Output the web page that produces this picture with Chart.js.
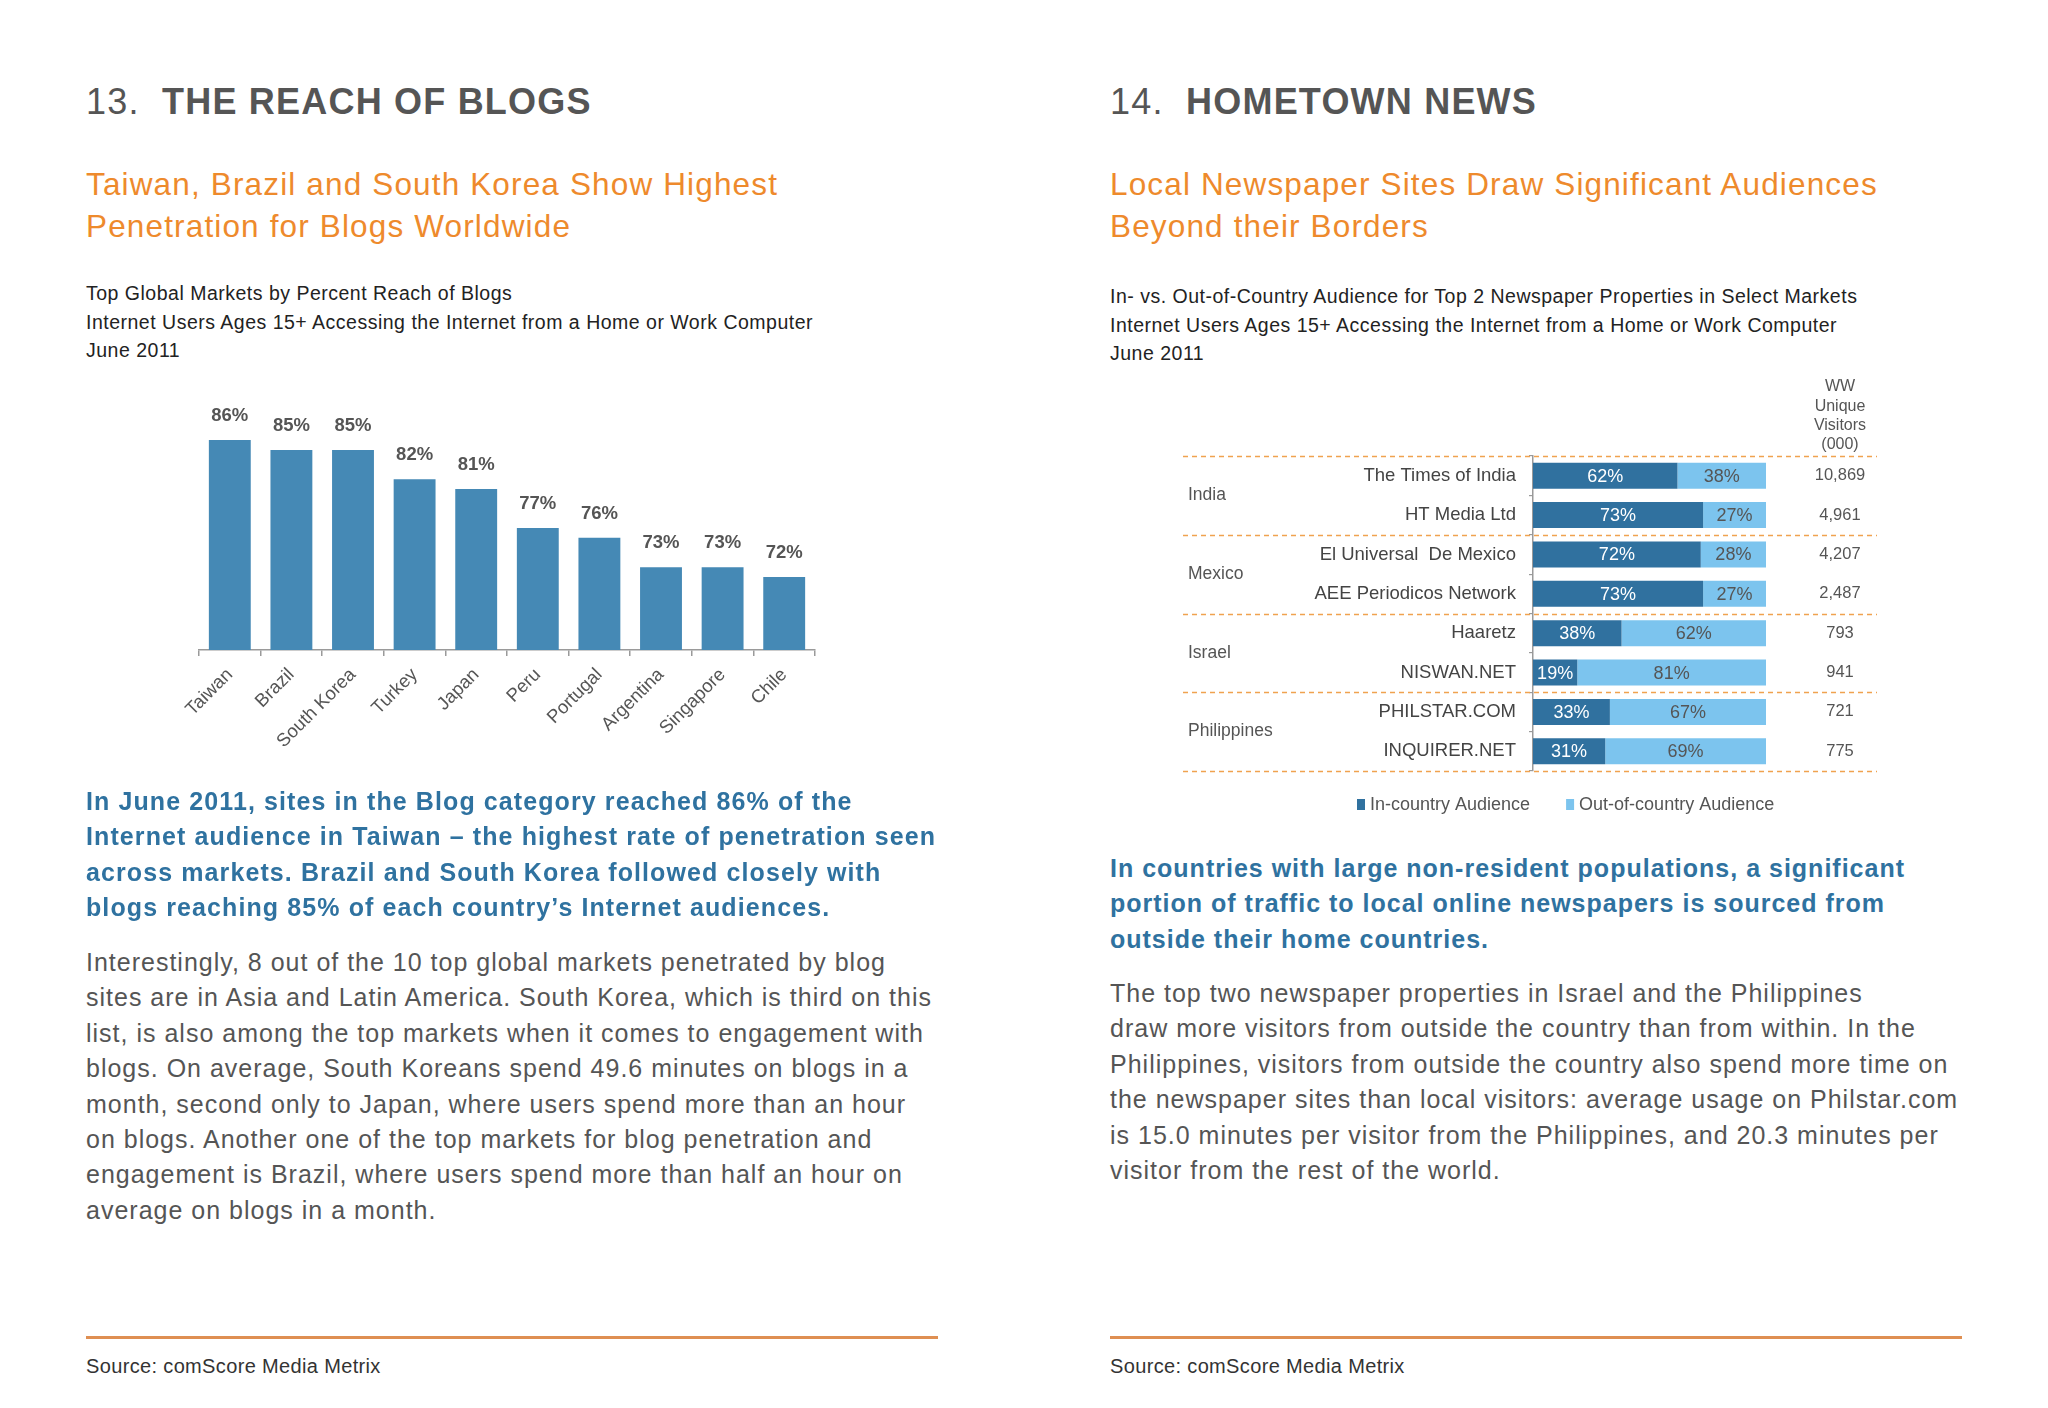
<!DOCTYPE html>
<html><head><meta charset="utf-8">
<script src="https://cdn.jsdelivr.net/npm/chart.js@4.4.1/dist/chart.umd.min.js"></script>
<style>
html,body{margin:0;padding:0;background:#fff;}
body{width:2048px;height:1408px;position:relative;overflow:hidden;font-family:"Liberation Sans",Arial,Helvetica,sans-serif;}
.abs{position:absolute;white-space:nowrap;}
.h1{font-size:36px;line-height:40px;color:#555;letter-spacing:1.2px;}
.h1 b{font-weight:bold;}
.sub{font-size:31.5px;line-height:42px;color:#EE8A2C;letter-spacing:1.15px;}
.note{font-size:19.5px;line-height:28.5px;color:#222;letter-spacing:0.5px;}
.lead{font-size:25px;line-height:35.3px;color:#2F72A0;font-weight:bold;letter-spacing:1.1px;}
.body{font-size:25px;line-height:35.4px;color:#555;letter-spacing:1.0px;}
.rule{position:absolute;height:3px;background:#DF8F52;}
.src{font-size:20px;line-height:24px;color:#333;letter-spacing:0.35px;}
.cv{position:absolute;}
</style></head>
<body>
<div class="abs h1" style="left:86px;top:82px;">13.&nbsp;&nbsp;<b>THE REACH OF BLOGS</b></div>
<div class="abs sub" style="left:86px;top:163px;">Taiwan, Brazil and South Korea Show Highest<br>Penetration for Blogs Worldwide</div>
<div class="abs note" style="left:86px;top:279px;">Top Global Markets by Percent Reach of Blogs<br>Internet Users Ages 15+ Accessing the Internet from a Home or Work Computer<br>June 2011</div>
<div class="cv" style="left:100px;top:380px;width:760px;height:420px;"><canvas id="blogChart" width="760" height="420"></canvas></div>
<div class="abs lead" style="left:86px;top:784px;">In June 2011, sites in the Blog category reached 86% of the<br>Internet audience in Taiwan – the highest rate of penetration seen<br>across markets. Brazil and South Korea followed closely with<br>blogs reaching 85% of each country’s Internet audiences.</div>
<div class="abs body" style="left:86px;top:945px;">Interestingly, 8 out of the 10 top global markets penetrated by blog<br>sites are in Asia and Latin America. South Korea, which is third on this<br>list, is also among the top markets when it comes to engagement with<br>blogs. On average, South Koreans spend 49.6 minutes on blogs in a<br>month, second only to Japan, where users spend more than an hour<br>on blogs. Another one of the top markets for blog penetration and<br>engagement is Brazil, where users spend more than half an hour on<br>average on blogs in a month.</div>
<div class="rule" style="left:86px;top:1336px;width:852px;"></div>
<div class="abs src" style="left:86px;top:1354px;">Source: comScore Media Metrix</div>

<div class="abs h1" style="left:1110px;top:82px;">14.&nbsp;&nbsp;<b>HOMETOWN NEWS</b></div>
<div class="abs sub" style="left:1110px;top:163px;">Local Newspaper Sites Draw Significant Audiences<br>Beyond their Borders</div>
<div class="abs note" style="left:1110px;top:282px;">In- vs. Out-of-Country Audience for Top 2 Newspaper Properties in Select Markets<br>Internet Users Ages 15+ Accessing the Internet from a Home or Work Computer<br>June 2011</div>
<div class="cv" style="left:1170px;top:370px;width:720px;height:460px;"><canvas id="newsChart" width="720" height="460"></canvas></div>
<div class="abs lead" style="left:1110px;top:851px;letter-spacing:1.0px;">In countries with large non-resident populations, a significant<br>portion of traffic to local online newspapers is sourced from<br>outside their home countries.</div>
<div class="abs body" style="left:1110px;top:976px;">The top two newspaper properties in Israel and the Philippines<br>draw more visitors from outside the country than from within. In the<br>Philippines, visitors from outside the country also spend more time on<br>the newspaper sites than local visitors: average usage on Philstar.com<br>is 15.0 minutes per visitor from the Philippines, and 20.3 minutes per<br>visitor from the rest of the world.</div>
<div class="rule" style="left:1110px;top:1336px;width:852px;"></div>
<div class="abs src" style="left:1110px;top:1354px;">Source: comScore Media Metrix</div>

<script>
// ---- Data: chart 13 ----
const blogMarkets = ['Taiwan','Brazil','South Korea','Turkey','Japan','Peru','Portugal','Argentina','Singapore','Chile'];
const blogReach = [86, 85, 85, 82, 81, 77, 76, 73, 73, 72];

// ---- Data: chart 14 ----
const newsSites = ['The Times of India','HT Media Ltd','El Universal  De Mexico','AEE Periodicos Network','Haaretz','NISWAN.NET','PHILSTAR.COM','INQUIRER.NET'];
const newsCountries = ['India','Mexico','Israel','Philippines'];
const inCountry = [62, 73, 72, 73, 38, 19, 33, 31];
const outCountry = [38, 27, 28, 27, 62, 81, 67, 69];
const wwVisitors = ['10,869','4,961','4,207','2,487','793','941','721','775'];
const wwHeader = ['WW','Unique','Visitors','(000)'];
const legendNames = ['In-country Audience','Out-of-country Audience'];

const FONT = '"Liberation Sans", Arial, Helvetica, sans-serif';

// ---- Chart 13 ----
const valueLabels = {
  id: 'valueLabels',
  afterDatasetsDraw(chart) {
    const ctx = chart.ctx;
    const meta = chart.getDatasetMeta(0);
    ctx.save();
    ctx.font = 'bold 18.5px ' + FONT;
    ctx.fillStyle = '#555';
    ctx.textAlign = 'center';
    ctx.textBaseline = 'middle';
    meta.data.forEach((bar, i) => {
      ctx.fillText(chart.data.datasets[0].data[i] + '%', bar.x, bar.y - 24);
    });
    ctx.restore();
  }
};

new Chart(document.getElementById('blogChart'), {
  type: 'bar',
  data: {
    labels: blogMarkets,
    datasets: [{
      label: 'Reach of Blogs',
      data: blogReach,
      backgroundColor: '#4589B5',
      barPercentage: 0.68,
      categoryPercentage: 1.0
    }]
  },
  options: {
    responsive: false,
    animation: false,
    events: [],
    layout: { padding: { left: 99, right: 45, top: 21, bottom: 0 } },
    plugins: { legend: { display: false }, tooltip: { enabled: false } },
    scales: {
      x: {
        grid: { offset: true, drawOnChartArea: false, drawTicks: true, tickLength: 6, color: '#9a9a9a', lineWidth: 1.5 },
        border: { display: true, color: '#9a9a9a', width: 1.5 },
        ticks: { color: '#555', font: { size: 18.5, family: FONT }, minRotation: 45, maxRotation: 45, padding: 8, autoSkip: false },
        afterFit(s) { s.height = 150; }
      },
      y: { display: false, min: 64.53, max: 90 }
    }
  },
  plugins: [valueLabels]
});

// ---- Chart 14 ----
const newsDecor = {
  id: 'newsDecor',
  afterDraw(chart) {
    const ctx = chart.ctx;
    const a = chart.chartArea;
    const ys = chart.scales.y;
    const rowY = i => ys.getPixelForTick(i);
    ctx.save();
    // dashed group separators
    ctx.strokeStyle = '#F0A24F';
    ctx.lineWidth = 1.6;
    ctx.setLineDash([5, 4]);
    const bounds = [a.top];
    for (let g = 1; g < newsCountries.length; g++) bounds.push((rowY(2 * g - 1) + rowY(2 * g)) / 2);
    bounds.push(a.bottom);
    bounds.forEach(y => {
      ctx.beginPath(); ctx.moveTo(13, Math.round(y) + 0.5); ctx.lineTo(707, Math.round(y) + 0.5); ctx.stroke();
    });
    ctx.setLineDash([]);
    // group labels
    ctx.font = '17.5px ' + FONT;
    ctx.fillStyle = '#555';
    ctx.textAlign = 'left';
    ctx.textBaseline = 'middle';
    newsCountries.forEach((c, g) => {
      ctx.fillText(c, 18, (rowY(2 * g) + rowY(2 * g + 1)) / 2);
    });
    // percentage labels inside bars
    ctx.font = '18px ' + FONT;
    ctx.textAlign = 'center';
    chart.data.datasets.forEach((ds, di) => {
      const meta = chart.getDatasetMeta(di);
      ctx.fillStyle = di === 0 ? '#ffffff' : '#555';
      meta.data.forEach((bar, i) => {
        ctx.fillText(ds.data[i] + '%', (bar.x + bar.base) / 2, bar.y + 1);
      });
    });
    // WW unique visitors column
    const colX = a.right + 74;
    ctx.font = '16px ' + FONT;
    ctx.fillStyle = '#555';
    wwHeader.forEach((t, k) => ctx.fillText(t, colX, a.top - 69 + k * 19.3));
    ctx.font = '16.5px ' + FONT;
    wwVisitors.forEach((t, i) => ctx.fillText(t, colX, rowY(i)));
    // legend
    ctx.font = '18px ' + FONT;
    ctx.textAlign = 'left';
    const ly = a.bottom + 33;
    let lx = a.left - 176;
    chart.data.datasets.forEach((ds, di) => {
      ctx.fillStyle = ds.backgroundColor;
      ctx.fillRect(lx, ly - 5, 8, 11);
      ctx.fillStyle = '#555';
      ctx.fillText(ds.label, lx + 13, ly + 1);
      lx += 13 + ctx.measureText(ds.label).width + 36;
    });
    ctx.restore();
  }
};

new Chart(document.getElementById('newsChart'), {
  type: 'bar',
  data: {
    labels: newsSites,
    datasets: [
      { label: legendNames[0], data: inCountry, backgroundColor: '#30719F', barPercentage: 0.66, categoryPercentage: 1.0 },
      { label: legendNames[1], data: outCountry, backgroundColor: '#7CC4EE', barPercentage: 0.66, categoryPercentage: 1.0 }
    ]
  },
  options: {
    indexAxis: 'y',
    responsive: false,
    animation: false,
    events: [],
    layout: { padding: { left: 0, right: 124, top: 86, bottom: 59 } },
    plugins: { legend: { display: false }, tooltip: { enabled: false } },
    scales: {
      x: { display: false, stacked: true, min: 0, max: 100 },
      y: {
        stacked: true,
        grid: { offset: true, drawOnChartArea: false, drawTicks: true, tickLength: 4, color: '#9a9a9a', lineWidth: 1.2 },
        border: { display: true, color: '#9a9a9a', width: 1.5 },
        ticks: { color: '#444', font: { size: 18.5, family: FONT }, padding: 13, autoSkip: false },
        afterFit(s) { s.width = 363; }
      }
    }
  },
  plugins: [newsDecor]
});
</script>
</body></html>
